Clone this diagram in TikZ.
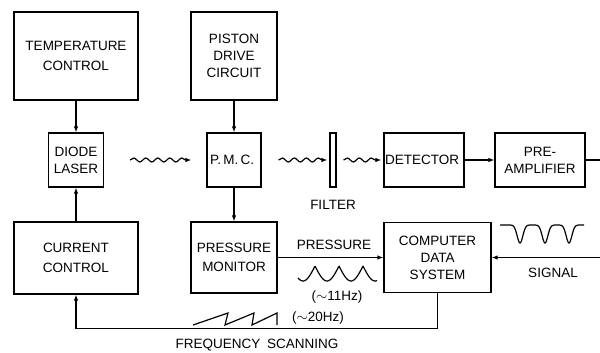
\documentclass[tikz,border=0pt]{standalone}
\usepackage{fontspec}
\setmainfont{Liberation Sans}
\usetikzlibrary{arrows.meta, positioning, decorations.pathmorphing}

\begin{document}
\begin{tikzpicture}[
    x=1pt, y=-1pt,
    node distance=10pt,
    box/.style={
        rectangle,
        draw=black,
        line width=1.2pt,
        align=center,
        inner sep=0pt,
        font=\fontsize{13.5}{17}\selectfont
    },
    labeltext/.style={inner sep=0pt, font=\fontsize{13.5}{16}\selectfont},
    wire/.style={line width=1.2pt},
    arrow/.style={wire, -{Latex[length=6pt,width=4.5pt]}},
    wavy/.style={arrow, decorate,
        decoration={snake, segment length=12pt, amplitude=2pt, post length=5pt}}
]

\useasboundingbox (0,0) rectangle (600,353);

% Left column
\node[box, minimum width=124pt, minimum height=88pt] (temp) at (76,56) {
TEMPERATURE\\[3pt]CONTROL
};

\node[box, minimum width=55pt, minimum height=54pt] (laser) at (76,160) {
DIODE\\LASER
};

\node[box, minimum width=124pt, minimum height=72pt] (current) at (76,258) {
CURRENT\\[3pt]CONTROL
};

% Middle column
\node[box, minimum width=86pt, minimum height=88pt] (piston) at (234,56) {
PISTON\\DRIVE\\CIRCUIT
};

\node[box, minimum width=54pt, minimum height=54pt] (pmc) at (234,160) {
P.\,M.\,C.
};

\node[box, minimum width=86pt, minimum height=71pt] (pressmon) at (234,257.5) {
PRESSURE\\[2pt]MONITOR
};

% Optical path
\node[box, minimum width=6pt, minimum height=54pt] (filter) at (333,160) {};
\node[labeltext, below=12pt of filter] (filterlabel) {FILTER};

\node[box, minimum width=80pt, minimum height=54pt] (detector) at (424,160) {
DETECTOR
};

\node[box, minimum width=90pt, minimum height=54pt] (preamp) at (540,160) {
PRE-\\AMPLIFIER
};

\node[box, minimum width=107pt, minimum height=70pt] (cds) at (437.5,257.5) {
COMPUTER\\DATA\\SYSTEM
};

\coordinate (edgeout) at (600,160);
\coordinate (edgein) at (600,257.5);

% Labels
\node[labeltext] (presslabel) at (334,245) {PRESSURE};
\node[labeltext] (presshz) at (337,297) {($\sim$11Hz)};
\node[labeltext] (scanhz) at (318,318) {($\sim$20Hz)};
\node[labeltext] (scanlabel) at (257,345) {FREQUENCY\enspace SCANNING};
\node[labeltext] (signallabel) at (553,273) {SIGNAL};

% Arrows
\draw[arrow] (temp) -- (laser);

\draw[arrow] (current) -- (laser);

\draw[arrow] (piston) -- (pmc);

\draw[arrow] (pmc) -- (pressmon);

\draw[wavy] ([xshift=26pt]laser.east) -- ([xshift=-15pt]pmc.west);

\draw[wavy] ([xshift=17pt]pmc.east) -- ([xshift=-2pt]filter.west);

\draw[wavy] ([xshift=7pt]filter.east) -- ([xshift=-2pt]detector.west);

\draw[arrow] (detector) -- (preamp);

\draw[wire] (preamp) -- (edgeout);

\draw[arrow] (edgein) -- (cds);

\draw[arrow] (pressmon) -- (cds);

\draw[arrow] (cds.south) -- ++(0,35) -| (current.south);

% Waveforms
\draw[wire, line join=round] plot[domain=298:377, samples=120]
    (\x, {266+15*abs(sin((\x-315)/24*180))});

\draw[wire, line join=round] plot[domain=500:584, samples=200]
    (\x, {225+18*exp(-((\x-520)/4)^2)+18*exp(-((\x-545)/4)^2)+18*exp(-((\x-569)/4)^2)});

\draw[wire, line join=miter] (193,325) -- (228,313) -- (225,325) -- (254,313)
    -- (252,325) -- (277,313) -- (277,325);

\end{tikzpicture}
\end{document}
